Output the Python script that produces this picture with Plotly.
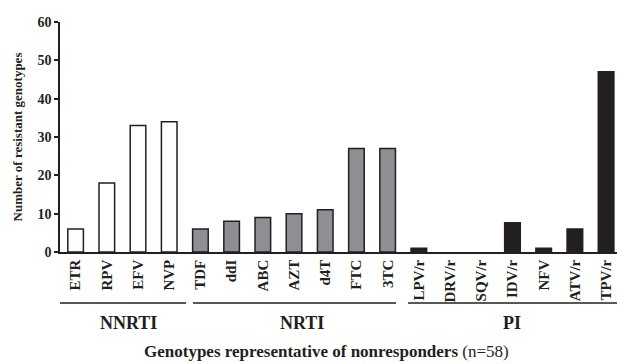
import plotly.graph_objects as go

drugs = ["ETR", "RPV", "EFV", "NVP", "TDF", "ddI", "ABC", "AZT", "d4T", "FTC", "3TC",
         "LPV/r", "DRV/r", "SQV/r", "IDV/r", "NFV", "ATV/r", "TPV/r"]
classes = ["NNRTI"] * 4 + ["NRTI"] * 7 + ["PI"] * 7
counts = [6, 18, 33, 34, 6, 8, 9, 10, 11, 27, 27, 1, 0, 0, 7.6, 1, 6, 47]
group_names = ["NNRTI", "NRTI", "PI"]
y_ticks = [0, 10, 20, 30, 40, 50, 60]

fill_map = {"NNRTI": "#ffffff", "NRTI": "#8e8f92", "PI": "#231f20"}
FONT = "Liberation Serif"
INK = "#231f20"

fig = go.Figure()
fig.add_trace(go.Bar(
    x=list(range(len(drugs))), y=counts,
    marker=dict(color=[fill_map[c] for c in classes],
                line=dict(color=INK, width=[1.5 if v > 0 else 0 for v in counts])),
    width=0.5,
))

# group brackets (in data x units) and labels
spans = {"NNRTI": (-0.5, 3.54), "NRTI": (3.76, 10.27), "PI": (10.65, 17.6)}
label_x = {"NNRTI": 1.68, "NRTI": 7.26, "PI": 13.99}
for g in group_names:
    x0, x1 = spans[g]
    fig.add_shape(type="line", xref="x", yref="paper", x0=x0, x1=x1, y0=-0.222, y1=-0.222,
                  line=dict(color=INK, width=1.5))
    fig.add_annotation(xref="x", yref="paper", x=label_x[g],
                       y=-0.309, text="<b>%s</b>" % g, showarrow=False,
                       font=dict(family=FONT, size=18, color=INK), yanchor="middle")

fig.add_annotation(xref="paper", yref="paper", x=0.479, y=-0.432,
                   text="<b>Genotypes representative of nonresponders</b> (n=58)",
                   showarrow=False, font=dict(family=FONT, size=17, color=INK),
                   yanchor="middle")

fig.update_layout(
    width=617, height=364,
    margin=dict(l=60, r=0, t=22, b=112),
    plot_bgcolor="white", paper_bgcolor="white",
    showlegend=False,
    xaxis=dict(range=[-0.5, 17.35], tickmode="array", tickvals=list(range(len(drugs))),
               ticktext=["<b>%s</b>" % d for d in drugs], tickangle=-90,
               tickfont=dict(family=FONT, size=15, color=INK), automargin=False,
               showline=True, linecolor=INK, linewidth=1.5, ticks="", showgrid=False,
               zeroline=False),
    yaxis=dict(range=[0, 60], tickmode="array", tickvals=y_ticks,
               ticktext=["<b>%d</b>" % v for v in y_ticks],
               tickfont=dict(family=FONT, size=14, color=INK), automargin=False,
               showline=True, linecolor=INK, linewidth=1.5, ticks="outside", ticklen=4,
               tickwidth=1.5, tickcolor=INK, showgrid=False, zeroline=False,
               title=dict(text="<b>Number of resistant genotypes</b>",
                          font=dict(family=FONT, size=13, color=INK), standoff=12)),
)

fig.write_html("out.html", config={"displayModeBar": False},
               post_script="document.body.style.margin='0';")
